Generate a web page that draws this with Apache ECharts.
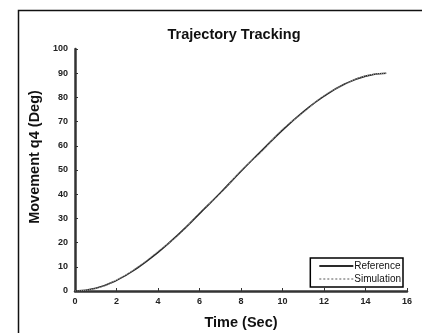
<!DOCTYPE html>
<html>
<head>
<meta charset="utf-8">
<script src="https://cdn.jsdelivr.net/npm/echarts@6/dist/echarts.min.js"></script>
<style>
  html, body { margin: 0; padding: 0; background: #fff; }
  #chart { width: 422px; height: 333px; }
</style>
</head>
<body>
<div id="chart"></div>
<script>
// Joint q4 trajectory: time (s) and angle (deg)
const timeSec = [0, 1, 2, 3, 4, 5, 6, 7, 8, 9, 10, 11, 12, 13, 14, 15];
const referenceDeg = [0, 1.1, 4.4, 9.5, 16, 23.5, 32, 40.5, 49.5, 58, 66.5, 74, 80.5, 85.5, 88.8, 90];
const simulationDeg = [0, 1.0, 4.6, 9.8, 16.5, 23.2, 32.4, 40.2, 49.8, 57.6, 66.9, 73.7, 80.8, 85.3, 88.9, 90];
const xTicks = [0, 2, 4, 6, 8, 10, 12, 14, 16];
const yTicks = [0, 10, 20, 30, 40, 50, 60, 70, 80, 90, 100];

const pairs = (xs, ys) => xs.map((x, i) => [x, ys[i]]);
const font = 'Liberation Sans, Arial, sans-serif';

const chart = echarts.init(document.getElementById('chart'), null, { renderer: 'canvas' });
chart.setOption({
  animation: false,
  backgroundColor: '#fff',
  title: {
    text: 'Trajectory Tracking',
    left: 229, top: 22, textAlign: 'center',
    textStyle: { fontFamily: font, fontWeight: 'bold', fontSize: 14.5, color: '#111' }
  },
  grid: { left: 75, top: 49, right: 15, bottom: 42, containLabel: false, outerBoundsMode: 'none' },
  xAxis: {
    type: 'value', min: xTicks[0], max: xTicks[xTicks.length - 1], interval: 2,
    name: 'Time (Sec)', nameLocation: 'middle', nameGap: 24,
    nameTextStyle: { fontFamily: font, fontWeight: 'bold', fontSize: 14.5, color: '#111' },
    axisLine: { lineStyle: { color: '#333', width: 2.5 } },
    axisTick: { inside: true, length: 3, lineStyle: { color: '#333' } },
    axisLabel: { fontFamily: font, fontWeight: 'bold', fontSize: 9, color: '#222', margin: 6 },
    splitLine: { show: false }
  },
  yAxis: {
    type: 'value', min: yTicks[0], max: yTicks[yTicks.length - 1], interval: 10,
    name: 'Movement q4 (Deg)', nameLocation: 'middle', nameGap: 28, nameRotate: 90,
    nameTextStyle: { fontFamily: font, fontWeight: 'bold', fontSize: 14.5, color: '#111', padding: [0, 0, 0, 26] },
    axisLine: { show: true, lineStyle: { color: '#333', width: 2.5 } },
    axisTick: { show: true, inside: true, length: 3, lineStyle: { color: '#333' } },
    axisLabel: { fontFamily: font, fontWeight: 'bold', fontSize: 9, color: '#222', margin: 7 },
    splitLine: { show: false }
  },
  legend: {
    orient: 'vertical', right: 19, bottom: 46,
    backgroundColor: '#fff', borderColor: '#000', borderWidth: 1.5,
    padding: [3, 2, 3, 8], itemGap: 3, itemWidth: 34, itemHeight: 11,
    itemStyle: { opacity: 0 },
    textStyle: { fontFamily: font, fontSize: 10, color: '#111', padding: [0, 0, 0, -4] },
    data: ['Reference', 'Simulation']
  },
  series: [
    {
      name: 'Reference', type: 'line', smooth: true, symbol: 'none',
      data: pairs(timeSec, referenceDeg),
      lineStyle: { color: '#2a2a2a', width: 1.6 }, itemStyle: { color: '#2a2a2a' }
    },
    {
      name: 'Simulation', type: 'line', smooth: true, symbol: 'none',
      data: pairs(timeSec, simulationDeg),
      lineStyle: { color: '#aaa', width: 1, type: 'dotted' }, itemStyle: { color: '#aaa' }
    }
  ],
  graphic: [
    {
      type: 'rect', left: 16, top: 8, z: 100, silent: true,
      shape: { width: 420, height: 340 },
      style: { fill: 'none', stroke: '#111', lineWidth: 1.5 }
    }
  ]
});
</script>
</body>
</html>
